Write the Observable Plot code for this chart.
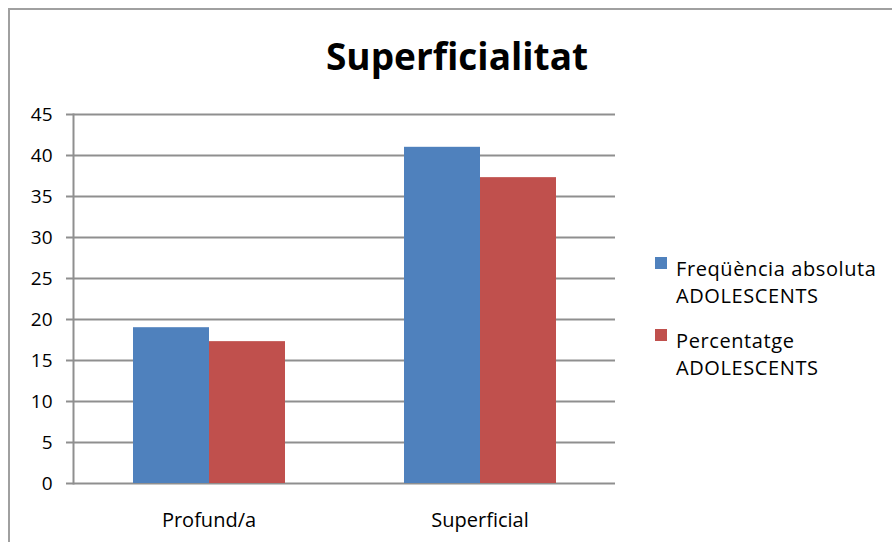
<!DOCTYPE html>
<html><head><meta charset="utf-8">
<script src="https://cdn.jsdelivr.net/npm/d3@7"></script>
<script src="https://cdn.jsdelivr.net/npm/@observablehq/plot@0.6"></script>
<style>
body{margin:0;background:#fff;}
#wrap{position:relative;width:892px;height:542px;overflow:hidden;font-family:'Open Sans',sans-serif;color:#000;}
#border{position:absolute;left:8px;top:8px;width:920px;height:580px;border:2px solid #a0a0a0;box-sizing:border-box;}
#chart{position:absolute;left:0;top:0;}
#title{position:absolute;left:457px;top:31px;transform:translateX(-50%);font-weight:700;font-size:37px;line-height:50px;white-space:nowrap;}
.entry{position:absolute;left:655px;font-size:20px;line-height:27px;letter-spacing:0.6px;}
.sw{position:absolute;left:0;top:2px;width:12px;height:12px;}
.txt{position:absolute;left:21px;top:0;white-space:nowrap;}
</style></head>
<body>
<div id="wrap">
  <div id="border"></div>
  <div id="chart"></div>
  <div id="title"></div>
  <div id="legend"></div>
</div>
<script>
const chartTitle = "Superficialitat";
const categories = ["Profund/a", "Superficial"];
const seriesNames = ["Freqüència absoluta ADOLESCENTS", "Percentatge ADOLESCENTS"];
const legendLines = [["Freqüència absoluta", "ADOLESCENTS"], ["Percentatge", "ADOLESCENTS"]];
const freqValues = [19, 41];
const pctValues = [17.3, 37.3];
const yTicks = [0, 5, 10, 15, 20, 25, 30, 35, 40, 45];
const colors = ["#4F81BD", "#C0504D"];

const table = categories.flatMap((c, i) => [
  {category: c, series: seriesNames[0], value: freqValues[i]},
  {category: c, series: seriesNames[1], value: pctValues[i]}
]);

const gridColor = "#8f8f8f";
const chart = Plot.plot({
  width: 892, height: 542,
  marginLeft: 73, marginRight: 277, marginTop: 114, marginBottom: 59,
  style: {fontFamily: "'Open Sans', sans-serif", fontSize: "19px", color: "#000", background: "transparent", overflow: "visible"},
  fx: {domain: categories, padding: 0, label: null},
  x: {domain: seriesNames, paddingInner: 0, paddingOuter: 0.76, axis: null},
  y: {domain: [0, 45]},
  color: {domain: seriesNames, range: colors},
  marks: [
    Plot.gridY(yTicks, {stroke: gridColor, strokeOpacity: 1, strokeWidth: 2}),
    Plot.barY(table, {fx: "category", x: "series", y: "value", fill: "series"}),
    Plot.frame({anchor: "left", facetAnchor: "left", stroke: gridColor, strokeWidth: 2}),
    Plot.axisY(yTicks, {tickSize: 7, tickPadding: 14, stroke: gridColor, strokeWidth: 2, label: null, fontSize: 19, letterSpacing: 0.5}),
    Plot.axisFx({anchor: "bottom", tickSize: 0, tickPadding: 29, fontSize: 20, label: null, letterSpacing: 0.5})
  ]
});
document.getElementById("chart").appendChild(chart);
document.getElementById("title").textContent = chartTitle;

const legend = document.getElementById("legend");
const entryTops = [255, 327];
legendLines.forEach((lines, i) => {
  const e = document.createElement("div");
  e.className = "entry";
  e.style.top = entryTops[i] + "px";
  const sw = document.createElement("div");
  sw.className = "sw";
  sw.style.background = colors[i];
  const t = document.createElement("div");
  t.className = "txt";
  t.innerHTML = lines.join("<br>");
  e.appendChild(sw); e.appendChild(t);
  legend.appendChild(e);
});
</script>
</body></html>
